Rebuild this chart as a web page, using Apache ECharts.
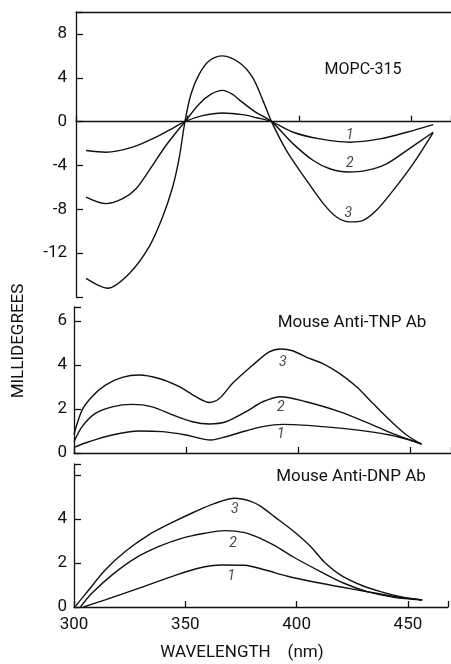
<!DOCTYPE html>
<html>
<head>
<meta charset="utf-8">
<script src="https://cdn.jsdelivr.net/npm/echarts@6/dist/echarts.min.js"></script>
<style>
  html, body { margin: 0; padding: 0; background: #fff; }
  #chart { width: 451px; height: 664px; }
</style>
</head>
<body>
<div id="chart"></div>
<script>
// x ticks shared by the three panels
const xTicks = [300, 350, 400, 450];

// MOPC-315 (top panel), [wavelength, millidegrees]
const mopc1 = [[304.5, -2.64], [313.4, -2.79], [325.4, -2.33], [335.8, -1.42], [342, -0.75], [348.8, 0], [356.7, 0.55], [365.7, 0.79], [374.6, 0.64], [381, 0.35], [387.6, 0], [397.3, -0.97], [409.3, -1.58], [422.7, -1.88], [436.1, -1.58], [448.1, -0.97], [460, -0.27]];
const mopc2 = [[304.5, -6.88], [313.4, -7.48], [320.9, -7.03], [326.9, -6.12], [332.8, -4.45], [340.3, -2.18], [348.8, 0], [355.2, 1.61], [360.5, 2.5], [365.7, 2.85], [370, 2.5], [374, 1.85], [380.6, 0.85], [387.6, 0], [397.3, -2.03], [406.3, -3.55], [413.7, -4.3], [422, -4.6], [430.2, -4.45], [439.1, -3.85], [448.1, -2.64], [460, -0.97]];
const mopc3 = [[304.5, -14.3], [314.2, -15.2], [323.9, -13.85], [332.8, -11.4], [338.8, -8.7], [343.3, -5.97], [346.3, -3.24], [348.8, 0], [351.5, 2.5], [355.2, 4.33], [359.7, 5.55], [365.7, 6.0], [373.1, 5.39], [379.1, 4.03], [384, 1.8], [387.6, 0], [394.3, -2.64], [403.3, -5.36], [410.8, -7.48], [416.7, -8.7], [422.7, -9.15], [428.7, -9.0], [434.6, -8.09], [442.1, -6.27], [451, -3.85], [460, -1.0]];
const mopcLabels = [[422.7, -1.27, '1'], [422.7, -3.85, '2'], [422, -8.4, '3']];

// Mouse Anti-TNP Ab (middle panel)
const tnp1 = [[300, 0.26], [306.6, 0.51], [317, 0.82], [329, 1.0], [339.4, 0.97], [349.8, 0.82], [361, 0.59], [367.7, 0.74], [376.7, 1.01], [384.1, 1.2], [393, 1.3], [410.9, 1.2], [425.8, 1.05], [440.7, 0.82], [449.7, 0.59], [454.9, 0.4]];
const tnp2 = [[300, 0.51], [303.6, 1.2], [309.5, 1.8], [317, 2.1], [326, 2.21], [334.9, 2.1], [343.9, 1.73], [352.8, 1.42], [360.3, 1.32], [367.7, 1.42], [376.7, 1.88], [384.1, 2.33], [392.2, 2.56], [403.4, 2.33], [418.3, 1.88], [433.2, 1.27], [443.7, 0.82], [454.9, 0.4]];
const tnp3 = [[300, 0.85], [303.6, 1.95], [308, 2.56], [314, 3.09], [321.5, 3.44], [329, 3.55], [337.9, 3.39], [346.9, 3.02], [354.3, 2.56], [360.3, 2.3], [364.8, 2.48], [370.7, 3.17], [379.7, 4.0], [387, 4.6], [392.2, 4.73], [397.4, 4.65], [404.9, 4.3], [410.9, 4.07], [418.3, 3.62], [425.8, 3.02], [433.2, 2.26], [440.7, 1.5], [448.2, 0.82], [454.9, 0.4]];
const tnpLabels = [[393, 4.12, '3'], [392.2, 2.08, '2'], [392.2, 0.82, '1']];

// Mouse Anti-DNP Ab (bottom panel)
const dnp1 = [[304.3, 0], [314, 0.32], [329, 0.85], [343.9, 1.38], [355.8, 1.76], [366.2, 1.91], [376.7, 1.9], [386, 1.68], [395.9, 1.4], [410.9, 1.08], [425.8, 0.8], [437.7, 0.59], [449.7, 0.39], [456.4, 0.32]];
const dnp2 = [[302.9, 0], [308, 0.62], [317, 1.45], [327.4, 2.21], [337.9, 2.74], [348.3, 3.12], [358.8, 3.35], [367.7, 3.47], [376.7, 3.38], [384.1, 3.1], [390, 2.8], [398.9, 2.25], [410.9, 1.6], [421.3, 1.08], [431.7, 0.7], [443.7, 0.44], [456.4, 0.32]];
const dnp3 = [[300.6, 0.03], [306.6, 0.77], [314, 1.68], [323, 2.52], [333.4, 3.27], [343.9, 3.83], [354.3, 4.33], [363.3, 4.71], [372.2, 4.94], [379.7, 4.79], [384.1, 4.56], [390, 4.11], [398.9, 3.42], [406.4, 2.74], [412.3, 2.06], [419.8, 1.45], [428.8, 1.0], [437.7, 0.7], [446.7, 0.47], [456.4, 0.32]];
const dnpLabels = [[372.2, 4.41, '3'], [371.4, 2.9, '2'], [370.7, 1.38, '1']];

const ink = '#111';
const font = 'Roboto, "Liberation Sans", sans-serif';

function xAxisFor(grid, showLabels) {
    return {
        type: 'value', gridIndex: grid, min: 300, max: 468, interval: 50,
        axisLine: { lineStyle: { color: ink, width: 1.3 } },
        axisTick: { inside: true, length: 6, lineStyle: { color: ink, width: 1.3 } },
        axisLabel: {
            show: showLabels, color: ink, fontSize: 17, fontFamily: font, margin: 9,
            formatter: v => xTicks.includes(v) ? String(v) : ''
        },
        splitLine: { show: false }
    };
}

function yAxisFor(grid, min, max, hide) {
    const step = grid === 0 ? 4 : 2;
    return {
        type: 'value', gridIndex: grid, min: min, max: max, interval: step,
        axisLine: { show: true, onZero: false, lineStyle: { color: ink, width: 1.3 } },
        axisTick: { inside: true, length: 7, lineStyle: { color: ink, width: 1.3 } },
        axisLabel: {
            color: ink, fontSize: 17, fontFamily: font, margin: grid === 0 ? 9 : 7,
            formatter: v => (v === hide || v % step !== 0) ? '' : String(v)
        },
        splitLine: { show: false }
    };
}

function curve(data, xi) {
    return {
        type: 'line', data: data, xAxisIndex: xi, yAxisIndex: xi === 0 ? 0 : xi - 1,
        smooth: 0.3, symbol: 'none', lineStyle: { color: ink, width: 1.4 }
    };
}

function labels(data, xi) {
    return {
        type: 'scatter', data: data, xAxisIndex: xi, yAxisIndex: xi === 0 ? 0 : xi - 1,
        symbolSize: 1, itemStyle: { color: 'rgba(0,0,0,0)' },
        label: {
            show: true, position: 'inside', formatter: p => p.data[2],
            color: ink, fontSize: 14, fontStyle: 'italic', fontFamily: font
        }
    };
}

const chart = echarts.init(document.getElementById('chart'));
const topBorder = {
    type: 'value', gridIndex: 0, min: 300, max: 468, position: 'top',
    axisLine: { onZero: false, lineStyle: { color: ink, width: 1.3 } },
    axisTick: { show: false }, axisLabel: { show: false }, splitLine: { show: false }
};

chart.setOption({
    animation: false,
    backgroundColor: '#fff',
    grid: [
        { left: 76, top: 12, width: 375, height: 285 },
        { left: 74, top: 307, width: 377, height: 146 },
        { left: 74, top: 464, width: 377, height: 143 }
    ],
    xAxis: [
        Object.assign(xAxisFor(0, false), { axisLine: { onZero: true, lineStyle: { color: ink, width: 1.3 } } }),
        topBorder,
        xAxisFor(1, false),
        xAxisFor(2, true)
    ],
    yAxis: [
        yAxisFor(0, -16, 10, -16),
        yAxisFor(1, 0, 6.64, null),
        yAxisFor(2, 0, 6.5, 6)
    ],
    series: [
        curve(mopc1, 0), curve(mopc2, 0), curve(mopc3, 0), labels(mopcLabels, 0),
        curve(tnp1, 2), curve(tnp2, 2), curve(tnp3, 2), labels(tnpLabels, 2),
        curve(dnp1, 3), curve(dnp2, 3), curve(dnp3, 3), labels(dnpLabels, 3)
    ],
    graphic: [
        { type: 'text', x: 363, y: 70, style: { text: 'MOPC-315', fill: ink, font: '16px ' + font, align: 'center', verticalAlign: 'middle' } },
        { type: 'text', x: 352, y: 323, style: { text: 'Mouse Anti-TNP Ab', fill: ink, font: '17px ' + font, align: 'center', verticalAlign: 'middle' } },
        { type: 'text', x: 351, y: 477, style: { text: 'Mouse Anti-DNP Ab', fill: ink, font: '17px ' + font, align: 'center', verticalAlign: 'middle' } },
        { type: 'text', x: 242, y: 653, style: { text: 'WAVELENGTH    (nm)', fill: ink, font: '17px ' + font, align: 'center', verticalAlign: 'middle' } },
        { type: 'text', x: 19, y: 341, rotation: Math.PI / 2, style: { text: 'MILLIDEGREES', fill: ink, font: '17px ' + font, align: 'center', verticalAlign: 'middle' } }
    ]
});
</script>
</body>
</html>
